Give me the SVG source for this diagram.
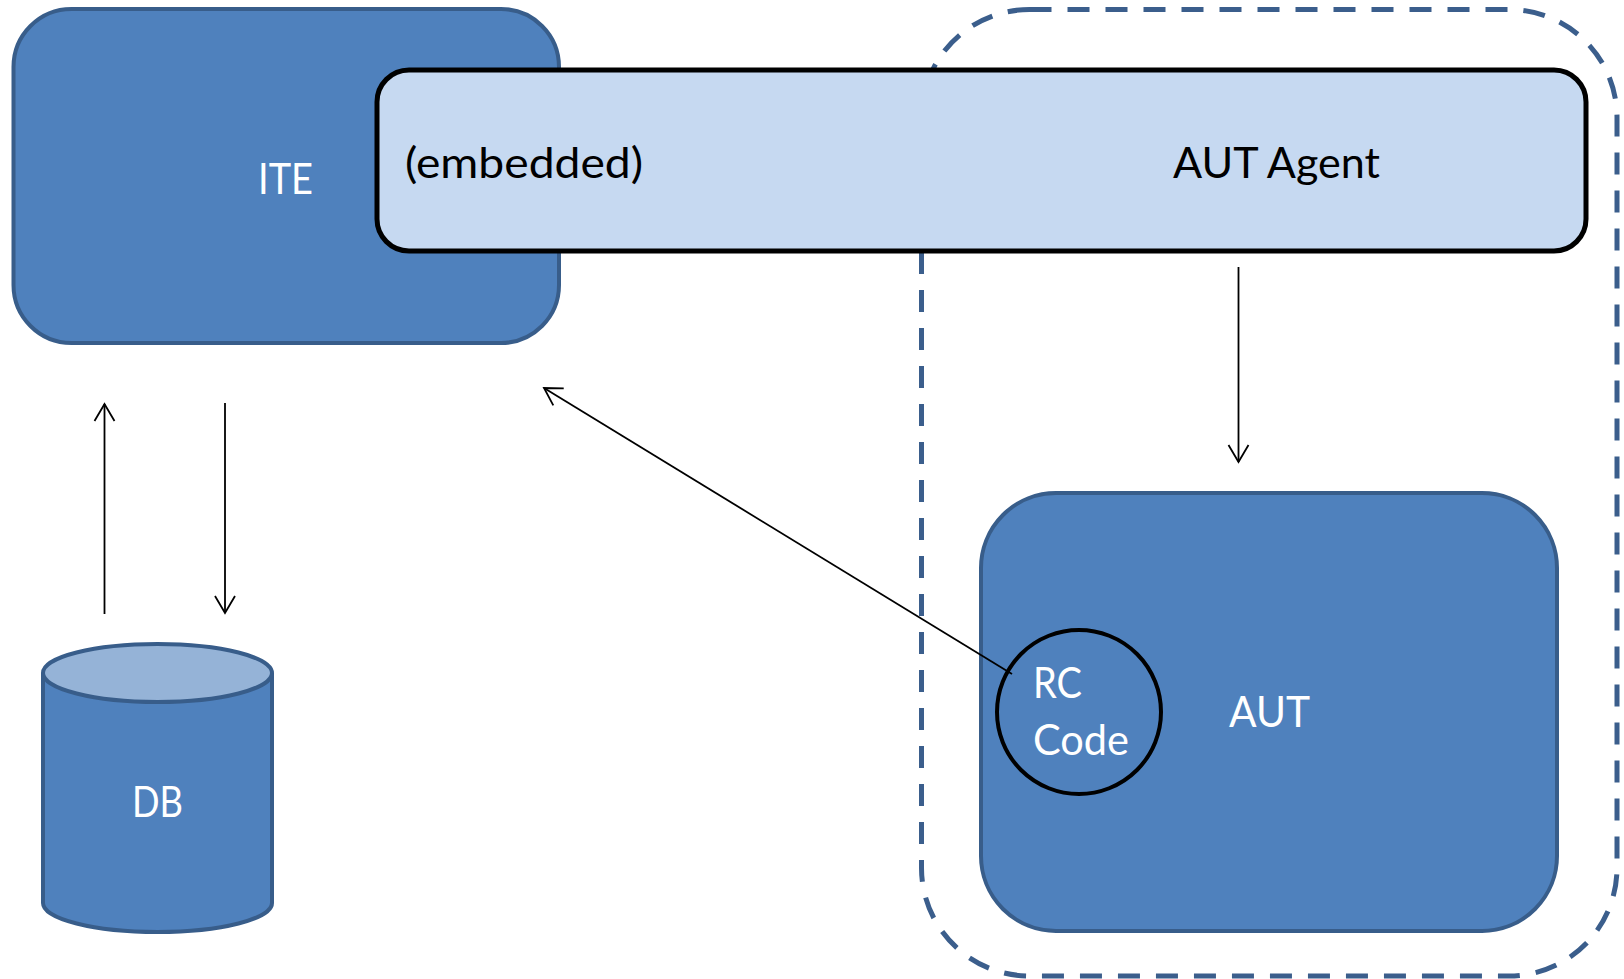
<svg xmlns="http://www.w3.org/2000/svg" width="1624" height="979" viewBox="0 0 1624 979">
<style>
.node{fill:#4F81BD;stroke:#385D8A;stroke-width:4}
.lbl{font-family:Lato,"Liberation Sans",sans-serif;font-size:42px}
.w{fill:#FFFFFF}
.k{fill:#000000}
.conn{stroke:#000;stroke-width:1.8;fill:none}
</style>
<defs>
<marker id="arr" viewBox="-20 -12 22 24" markerWidth="22" markerHeight="24" refX="0" refY="0" orient="auto" markerUnits="userSpaceOnUse">
<path d="M-17,-10 L0,0 L-17,10" fill="none" stroke="#000" stroke-width="1.8"/>
</marker>
</defs>
<rect width="1624" height="979" fill="#FFFFFF"/>
<g id="boundary">
<rect x="921.5" y="9.5" width="695.5" height="966.5" rx="108" ry="108" fill="none" stroke="#3B5E8C" stroke-width="5" stroke-dasharray="22 16"/>
</g>
<g id="ite">
<rect class="node" x="13.5" y="9" width="545.5" height="334" rx="58" ry="58"/>
<text class="lbl w" x="258" y="194" textLength="55" lengthAdjust="spacingAndGlyphs">ITE</text>
</g>
<g id="agent">
<rect x="377" y="70" width="1209" height="181" rx="32" ry="32" fill="#C6D9F1" stroke="#000" stroke-width="5"/>
<text class="lbl k" x="405" y="178" textLength="238" lengthAdjust="spacingAndGlyphs">(embedded)</text>
<text class="lbl k" x="1173" y="178" textLength="207" lengthAdjust="spacingAndGlyphs">AUT Agent</text>
</g>
<g id="aut">
<rect class="node" x="981" y="493" width="576" height="438" rx="75" ry="75"/>
<text class="lbl w" x="1229" y="727" textLength="81" lengthAdjust="spacingAndGlyphs">AUT</text>
</g>
<g id="rccode">
<circle cx="1079" cy="712" r="82" fill="none" stroke="#000" stroke-width="4"/>
<text class="lbl w" x="1033" y="698" textLength="49" lengthAdjust="spacingAndGlyphs">RC</text>
<text class="lbl w" x="1033" y="755" textLength="96" lengthAdjust="spacingAndGlyphs">Code</text>
</g>
<g id="db">
<path class="node" d="M43,673 L43,903 A114.5,29 0 0 0 272,903 L272,673"/>
<ellipse cx="157.5" cy="673" rx="114.5" ry="29" fill="#95B3D7" stroke="#385D8A" stroke-width="4"/>
<text class="lbl w" x="132" y="817" textLength="51" lengthAdjust="spacingAndGlyphs">DB</text>
</g>
<g id="connectors">
<line class="conn" x1="104.5" y1="614" x2="104.5" y2="404" marker-end="url(#arr)"/>
<line class="conn" x1="225" y1="403" x2="225" y2="613" marker-end="url(#arr)"/>
<line class="conn" x1="1238.5" y1="267" x2="1238.5" y2="462" marker-end="url(#arr)"/>
<line class="conn" x1="1012" y1="674" x2="544" y2="388" marker-end="url(#arr)"/>
</g>
</svg>
